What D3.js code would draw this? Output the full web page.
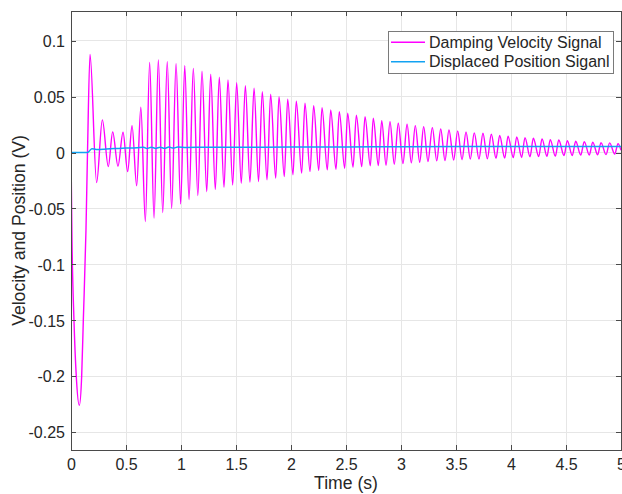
<!DOCTYPE html>
<html>
<head>
<meta charset="utf-8">
<script src="https://cdn.jsdelivr.net/npm/d3@7"></script>
<style>
    body { margin: 0; background: #fff; }
    svg { display: block; font-family: "Liberation Sans", Arial, Helvetica, sans-serif; }
</style>
</head>
<body>
<svg width="622" height="494"></svg>
<script>

// Data (extrema of the velocity signal, in time order)
var velTime = [
    0, 0.009, 0.027, 0.048, 0.0755, 0.097, 0.112, 0.136, 0.15, 0.173,
    0.233, 0.285, 0.339, 0.379, 0.427, 0.473, 0.515, 0.555, 0.597, 0.635,
    0.676, 0.715, 0.755, 0.794, 0.834, 0.875, 0.915, 0.955, 0.997, 1.034,
    1.073, 1.112, 1.153, 1.191, 1.234, 1.270, 1.312, 1.348, 1.391, 1.427,
    1.470, 1.506, 1.548, 1.585, 1.627, 1.664, 1.705, 1.739, 1.782, 1.815,
    1.861, 1.891, 1.939, 1.970, 2.018, 2.048, 2.097, 2.127, 2.173, 2.206,
    2.252, 2.282, 2.330, 2.361, 2.409, 2.439, 2.488, 2.515, 2.564, 2.594,
    2.643, 2.673, 2.721, 2.748, 2.794, 2.825, 2.864, 2.900, 2.939, 2.975,
    3.018, 3.055, 3.094, 3.130, 3.170, 3.206, 3.245, 3.285, 3.325, 3.361,
    3.400, 3.436, 3.479, 3.515, 3.555, 3.591, 3.630, 3.666, 3.709, 3.745,
    3.785, 3.821, 3.864, 3.897, 3.943, 3.973, 4.021, 4.052, 4.097, 4.127,
    4.173, 4.203, 4.252, 4.282, 4.327, 4.357, 4.403, 4.434, 4.482, 4.512,
    4.557, 4.588, 4.634, 4.666, 4.712, 4.743, 4.788, 4.818, 4.864, 4.897,
    4.943, 4.973, 5.0
];
var velValue = [
    0, -0.078, -0.15, -0.2, -0.226, -0.2, -0.15, -0.07, 0, 0.0878,
    -0.0268, 0.0292, -0.0125, 0.0185, -0.0122, 0.0182, -0.017, 0.0241, -0.0297, 0.0405,
    -0.0616, 0.0807, -0.0586, 0.0828, -0.0536, 0.0813, -0.0500, 0.0795, -0.0460, 0.0777,
    -0.0420, 0.0753, -0.0385, 0.0727, -0.0350, 0.0700, -0.0330, 0.0673, -0.0310, 0.0649,
    -0.0290, 0.0625, -0.0275, 0.0598, -0.0265, 0.0575, -0.0259, 0.0545, -0.0244, 0.0521,
    -0.0229, 0.0500, -0.0214, 0.0477, -0.0199, 0.0459, -0.0184, 0.0441, -0.0170, 0.0420,
    -0.0160, 0.0402, -0.0155, 0.0381, -0.0149, 0.0366, -0.0140, 0.0352, -0.0130, 0.0334,
    -0.0125, 0.0321, -0.0119, 0.0307, -0.0116, 0.0286, -0.0113, 0.0277, -0.0104, 0.0262,
    -0.0098, 0.0254, -0.0092, 0.0241, -0.0086, 0.0232, -0.0080, 0.0223, -0.0074, 0.0212,
    -0.0072, 0.0203, -0.0066, 0.0194, -0.0064, 0.0185, -0.0059, 0.0176, -0.0058, 0.0173,
    -0.0055, 0.0164, -0.0052, 0.0152, -0.0050, 0.0146, -0.0045, 0.0140, -0.0044, 0.0134,
    -0.0038, 0.0128, -0.0036, 0.0122, -0.0033, 0.0116, -0.0032, 0.0113, -0.0027, 0.0107,
    -0.0026, 0.0101, -0.0023, 0.0098, -0.0022, 0.0093, -0.0020, 0.0089, -0.0018, 0.0087,
    -0.0014, 0.0080, 0.002
];

// displaced position signal
var posTime = [0, 0.15, 0.165, 0.19, 0.23, 0.30, 0.40, 0.50, 0.60, 0.66, 0.69, 0.73, 0.77,
    0.81, 0.85, 0.89, 0.93, 0.97, 1.05, 1.2, 1.5, 2.0, 2.5, 3.0, 4.0, 5.0];
var posValue = [0, 0, 0.0012, 0.0035, 0.0028, 0.003, 0.0036, 0.004, 0.0044, 0.0048, 0.0036, 0.0048, 0.0037,
    0.0048, 0.0038, 0.0049, 0.0040, 0.0049, 0.0046, 0.0047, 0.0048, 0.0049, 0.005, 0.0052, 0.0054, 0.0054];

var seriesNames = ['Damping Velocity Signal', 'Displaced Position Siganl'];
var seriesColors = ['#ff00ff', '#12a2f2'];

var xTickVals = [0, 0.5, 1, 1.5, 2, 2.5, 3, 3.5, 4, 4.5, 5];
var xTickLabels = ['0', '0.5', '1', '1.5', '2', '2.5', '3', '3.5', '4', '4.5', '5'];
var yTickVals = [-0.25, -0.2, -0.15, -0.1, -0.05, 0, 0.05, 0.1];
var yTickLabels = ['-0.25', '-0.2', '-0.15', '-0.1', '-0.05', '0', '0.05', '0.1'];

var margin = {top: 11, right: 1, bottom: 44, left: 71};
var width = 622, height = 494;

var svg = d3.select('svg');

// scales
var xScale = d3.scaleLinear()
    .domain([0, 5])
    .range([margin.left, width - margin.right]);

var yScale = d3.scaleLinear()
    .domain([-0.266, 0.1266])
    .range([height - margin.bottom, margin.top]);

var x0 = margin.left, x1 = width - margin.right;
var y0 = margin.top, y1 = height - margin.bottom;

// grid
var grid = svg.append('g').attr('shape-rendering', 'crispEdges');
grid.selectAll('.vg').data(xTickVals).enter().append('line')
    .attr('x1', d => xScale(d)).attr('x2', d => xScale(d))
    .attr('y1', y0).attr('y2', y1)
    .attr('stroke', '#e6e6e6');
grid.selectAll('.hg').data(yTickVals).enter().append('line')
    .attr('x1', x0).attr('x2', x1)
    .attr('y1', d => yScale(d)).attr('y2', d => yScale(d))
    .attr('stroke', '#e6e6e6');

// lines
svg.append('clipPath').attr('id', 'plotclip')
    .append('rect').attr('x', x0).attr('y', y0).attr('width', x1 - x0).attr('height', y1 - y0);

var line = d3.line()
    .x(d => xScale(d[0]))
    .y(d => yScale(d[1]))
    .curve(d3.curveMonotoneX);

var velData = velTime.map((t, i) => [t, velValue[i]]);
var posData = posTime.map((t, i) => [t, posValue[i]]);

svg.append('path')
    .datum(velData)
    .attr('clip-path', 'url(#plotclip)')
    .attr('fill', 'none')
    .attr('stroke', seriesColors[0])
    .attr('stroke-width', 1.4)
    .attr('d', line);

svg.append('path')
    .datum(posData)
    .attr('clip-path', 'url(#plotclip)')
    .attr('fill', 'none')
    .attr('stroke', seriesColors[1])
    .attr('stroke-width', 1.5)
    .attr('d', line);

// axes (ticks point inward like matlab)
var axisColor = '#4a4a4a';
var textColor = '#262626';

var xAxis = d3.axisBottom(xScale)
    .tickValues(xTickVals)
    .tickFormat((d, i) => xTickLabels[i])
    .tickSize(-5)
    .tickPadding(8.5);

var yAxis = d3.axisLeft(yScale)
    .tickValues(yTickVals)
    .tickFormat((d, i) => yTickLabels[i])
    .tickSize(-5)
    .tickPadding(6);

var gx = svg.append('g')
    .attr('transform', 'translate(' + [0, y1] + ')')
    .call(xAxis);
var gy = svg.append('g')
    .attr('transform', 'translate(' + [x0, 0] + ')')
    .call(yAxis);
var gt = svg.append('g')
    .attr('transform', 'translate(' + [0, y0] + ')')
    .call(d3.axisTop(xScale).tickValues(xTickVals).tickFormat('').tickSize(-5));
var gr = svg.append('g')
    .attr('transform', 'translate(' + [x1, 0] + ')')
    .call(d3.axisRight(yScale).tickValues(yTickVals).tickFormat('').tickSize(-5));

[gx, gy, gt, gr].forEach(g => {
    g.select('.domain').remove();
    g.selectAll('line').attr('stroke', axisColor).attr('shape-rendering', 'crispEdges');
    g.selectAll('text')
        .attr('fill', textColor)
        .style('font-size', '16px')
        .style('font-family', '"Liberation Sans", Arial, sans-serif');
});
gy.selectAll('text').attr('dy', '0.36em');

// box
svg.append('rect')
    .attr('x', x0).attr('y', y0)
    .attr('width', x1 - x0).attr('height', y1 - y0)
    .attr('fill', 'none')
    .attr('stroke', axisColor)
    .attr('shape-rendering', 'crispEdges');

// axis titles
svg.append('text')
    .attr('x', (x0 + x1) / 2)
    .attr('y', 489)
    .attr('text-anchor', 'middle')
    .attr('fill', textColor)
    .style('font-size', '17.6px')
    .text('Time (s)');

svg.append('text')
    .attr('transform', 'translate(25,' + ((y0 + y1) / 2) + ') rotate(-90)')
    .attr('text-anchor', 'middle')
    .attr('fill', textColor)
    .style('font-size', '17.6px')
    .text('Velocity and Position (V)');

// legend
var legend = svg.append('g');
legend.append('rect')
    .attr('x', 388).attr('y', 31)
    .attr('width', 225).attr('height', 42)
    .attr('fill', '#fff')
    .attr('stroke', '#7a7a7a')
    .attr('shape-rendering', 'crispEdges');

var rows = legend.selectAll('.item')
    .data(seriesNames)
    .enter().append('g')
    .attr('transform', (d, i) => 'translate(0,' + (42.3 + i * 19.4) + ')');

rows.append('line')
    .attr('x1', 391).attr('x2', 425)
    .attr('stroke', (d, i) => seriesColors[i])
    .attr('stroke-width', 1.4);

rows.append('text')
    .attr('x', 429)
    .attr('dy', '0.36em')
    .attr('fill', textColor)
    .style('font-size', '16px')
    .text(d => d);

</script>
</body>
</html>
